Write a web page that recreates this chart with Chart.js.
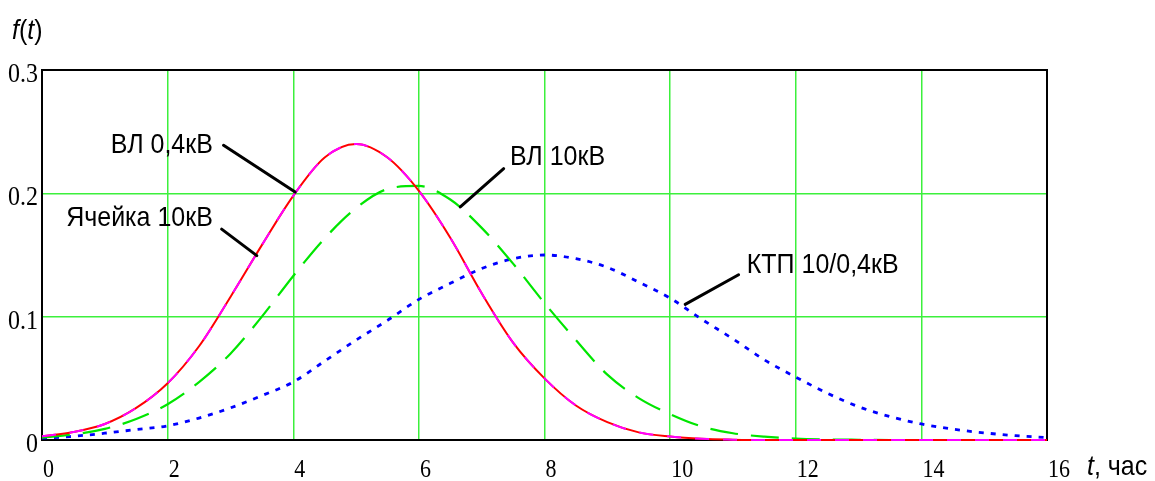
<!DOCTYPE html>
<html>
<head>
<meta charset="utf-8">
<script src="https://cdn.jsdelivr.net/npm/chart.js@4.4.1/dist/chart.umd.min.js"></script>
<style>
html,body{margin:0;padding:0;background:#fff;}
#wrap{width:1155px;height:481px;position:relative;}
</style>
</head>
<body>
<div id="wrap"><canvas id="c" width="1155" height="481"></canvas></div>
<script>
// ---- data ----
const tValues = [0,0.5,1,1.5,2,2.5,3,3.5,4,4.5,5,5.5,6,6.5,7,7.5,8,8.5,9,9.5,10,10.5,11,11.5,12,12.5,13,13.5,14,14.5,15,15.5,16];
const vl04 = [0.003,0.0065,0.013,0.026,0.046,0.076,0.116,0.158,0.198,0.229,0.240,0.229,0.202,0.164,0.119,0.079,0.050,0.028,0.0145,0.0062,0.0028,0.001,0.0003,0,0,0,0,0,0,0,0,0,0];
const yacheika10 = [0.003,0.0065,0.013,0.026,0.046,0.076,0.116,0.158,0.198,0.229,0.240,0.229,0.202,0.164,0.119,0.079,0.050,0.028,0.0145,0.0062,0.0028,0.001,0.0003,0,0,0,0,0,0,0,0,0,0];
const vl10 = [0.002,0.0045,0.009,0.017,0.029,0.047,0.070,0.100,0.133,0.1635,0.188,0.2035,0.206,0.195,0.172,0.143,0.111,0.081,0.053,0.034,0.021,0.011,0.0055,0.0027,0.0012,0.0005,0.0002,0,0,0,0,0,0];
const ktp = [0.0015,0.003,0.0055,0.0085,0.0115,0.0178,0.026,0.036,0.047,0.064,0.081,0.097,0.114,0.127,0.139,0.147,0.150,0.147,0.140,0.128,0.115,0.098,0.082,0.065,0.051,0.038,0.027,0.019,0.013,0.0088,0.0058,0.0035,0.002];
const xTickValues = [0,2,4,6,8,10,12,14,16];
const xTickLabels = ['0','2','4','6','8','10','12','14','16'];
const yTickValues = [0,0.1,0.2,0.3];
const yTickLabels = ['0','0.1','0.2','0.3'];
const seriesNames = ['ВЛ 0,4кВ','Ячейка 10кВ','ВЛ 10кВ','КТП 10/0,4кВ'];
const xAxisTitle = ['t', ', час'];
// label anchor (text right edge / middle) and leader line ends, in data units
const labelText = ['ВЛ 0,4кВ','Ячейка 10кВ','ВЛ 10кВ','КТП 10/0,4кВ'];
const labelAlign = ['right','right','left','left'];
const labelT = [2.72, 2.72, 7.45, 11.22];
const labelF = [0.239, 0.180, 0.229, 0.142];
const leaderT1 = [2.89, 2.86, 7.35, 11.09];
const leaderF1 = [0.239, 0.171, 0.220, 0.134];
const leaderT2 = [4.03, 3.42, 6.66, 10.24];
const leaderF2 = [0.201, 0.1495, 0.189, 0.110];

const pts = arr => tValues.map((t,i)=>({x:t,y:arr[i]}));
const SANS = '"Liberation Sans", Arial, sans-serif';
const SERIF = '"Liberation Serif", "Times New Roman", serif';
const STRETCH = 1.13;

function drawText(ctx, s, x, y, font, align){
  ctx.save();
  ctx.translate(x, y);
  ctx.scale(1, STRETCH);
  ctx.font = font; ctx.textAlign = align; ctx.textBaseline = 'middle';
  ctx.fillStyle = '#000';
  ctx.fillText(s, 0, 0);
  const w = ctx.measureText(s).width;
  ctx.restore();
  return w;
}

const overlay = {
  id:'overlay',
  beforeDatasetsDraw(chart){
    const {ctx, chartArea:a} = chart;
    ctx.save();
    ctx.strokeStyle='#000'; ctx.lineWidth=2;
    ctx.strokeRect(a.left, a.top, a.right-a.left, a.bottom-a.top);
    ctx.restore();
  },
  afterDatasetsDraw(chart){
    const {ctx, scales:{x,y}} = chart;
    ctx.save();
    // tick labels
    xTickValues.forEach((v,i)=>drawText(ctx, xTickLabels[i], x.getPixelForValue(v)+1, y.getPixelForValue(0)+30, '22px '+SERIF, 'left'));
    yTickValues.forEach((v,i)=>drawText(ctx, yTickLabels[i], x.getPixelForValue(0)-4, y.getPixelForValue(v)+5, '24px '+SERIF, 'right'));
    // leaders
    ctx.strokeStyle='#000'; ctx.lineWidth=3; ctx.lineCap='round';
    for(let i=0;i<labelText.length;i++){
      ctx.beginPath();
      ctx.moveTo(x.getPixelForValue(leaderT1[i]), y.getPixelForValue(leaderF1[i]));
      ctx.lineTo(x.getPixelForValue(leaderT2[i]), y.getPixelForValue(leaderF2[i]));
      ctx.stroke();
    }
    for(let i=0;i<labelText.length;i++){
      drawText(ctx, labelText[i], x.getPixelForValue(labelT[i]), y.getPixelForValue(labelF[i]), '25px '+SANS, labelAlign[i]);
    }
    // x axis title
    let px = x.getPixelForValue(16)+40, py = y.getPixelForValue(0)+27;
    px += drawText(ctx, xAxisTitle[0], px, py, 'italic 25px '+SANS, 'left');
    drawText(ctx, xAxisTitle[1], px, py, '25px '+SANS, 'left');
    // y axis title f(t)
    const parts = [['f',true],['(',false],['t',true],[')',false]];
    let qx = 12, qy = 31;
    for(const [s,it] of parts){
      qx += drawText(ctx, s, qx, qy, (it?'italic ':'')+'25px '+SANS, 'left');
    }
    ctx.restore();
  }
};

const gridColor = '#3cf03c';
const clip = {left:6,top:6,right:6,bottom:6};
new Chart(document.getElementById('c'), {
  type:'line',
  data:{datasets:[
    {label:seriesNames[0], data:pts(vl04), borderColor:'#ff0000', borderWidth:2, pointRadius:0, cubicInterpolationMode:'monotone', order:2, clip},
    {label:seriesNames[1], data:pts(yacheika10), borderColor:'#ff00ff', borderWidth:2, borderDash:[14,14], pointRadius:0, cubicInterpolationMode:'monotone', order:1, clip},
    {label:seriesNames[2], data:pts(vl10), borderColor:'#00e600', borderWidth:2.2, borderDash:[28,13], pointRadius:0, cubicInterpolationMode:'monotone', order:3, clip},
    {label:seriesNames[3], data:pts(ktp), borderColor:'#0000ff', borderWidth:2.8, borderDash:[5,7], pointRadius:0, cubicInterpolationMode:'monotone', order:4, clip}
  ]},
  options:{
    responsive:false, animation:false, devicePixelRatio:1,
    layout:{padding:{left:0,right:108,top:70,bottom:0}},
    plugins:{legend:{display:false}, tooltip:{enabled:false}},
    scales:{
      x:{type:'linear', min:0, max:16,
        afterBuildTicks:s=>{s.ticks = xTickValues.map(v=>({value:v}));},
        afterFit:s=>{s.height=41;},
        ticks:{display:false},
        grid:{color:gridColor, lineWidth:1.5, drawTicks:false},
        border:{display:false}
      },
      y:{min:0, max:0.3,
        afterBuildTicks:s=>{s.ticks = yTickValues.map(v=>({value:v}));},
        afterFit:s=>{s.width=42;},
        ticks:{display:false},
        grid:{color:gridColor, lineWidth:1.5, drawTicks:false},
        border:{display:false}
      }
    }
  },
  plugins:[overlay]
});
</script>
</body>
</html>
